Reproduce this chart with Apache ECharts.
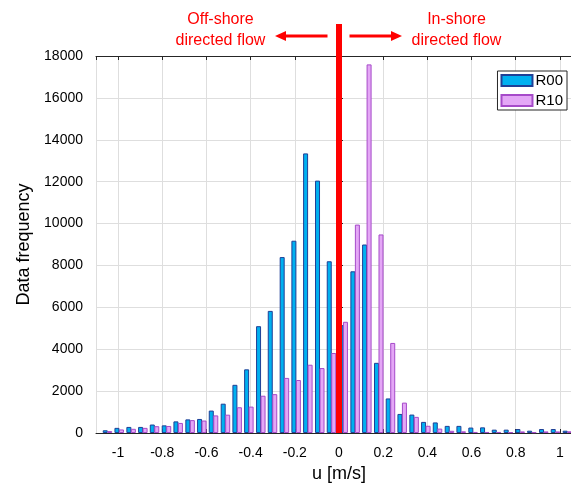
<!DOCTYPE html>
<html><head><meta charset="utf-8">
<script src="https://cdn.jsdelivr.net/npm/echarts@6/dist/echarts.min.js"></script>
<style>html,body{margin:0;padding:0;background:#fff;overflow:hidden}#c{width:571px;height:486px}</style>
</head><body><div id="c"></div>
<script>
// bin centres (u, m/s)
const binCenters = [-1.048,-0.995,-0.941,-0.888,-0.835,-0.781,-0.728,-0.674,-0.621,-0.568,
  -0.514,-0.461,-0.408,-0.354,-0.301,-0.247,-0.194,-0.141,-0.087,-0.034,
  0.019,0.073,0.126,0.180,0.233,0.286,0.340,0.393,0.446,0.500,
  0.553,0.607,0.660,0.713,0.767,0.820,0.873,0.927,0.980,1.034];
const r00 = [130,245,290,290,405,365,555,650,670,1070,1400,2300,3040,5100,5830,8400,9180,13350,12050,8200,
  5150,7720,9000,3350,1650,910,880,530,505,340,340,260,270,160,160,190,110,190,190,110];
const r10 = [90,170,200,245,325,335,480,615,595,840,875,1230,1260,1780,1855,2630,2530,3260,3100,3820,
  5310,9950,17600,9480,4300,1450,770,345,210,105,80,50,50,50,35,75,40,75,75,80];
const seriesNames = ['R00','R10'];
const xTickValues = [-1,-0.8,-0.6,-0.4,-0.2,0,0.2,0.4,0.6,0.8,1];
const yTickValues = [0,2000,4000,6000,8000,10000,12000,14000,16000,18000];
const annotations = {left:['Off-shore','directed flow'], right:['In-shore','directed flow']};

const FONT = 'Liberation Sans, Arial, sans-serif';
const AX = '#262626';
const chart = echarts.init(document.getElementById('c'), null, {renderer:'canvas'});

function isTick(v){ return xTickValues.some(t => Math.abs(t - v) < 1e-6); }

const xCommon = {
  type:'value', min:-1.1, max:1.1, splitNumber:11,
  axisLine:{show:true, onZero:false, lineStyle:{color:AX, width:1}},
  axisTick:{show:true, inside:true, length:4, lineStyle:{color:AX}},
};

chart.setOption({
  animation:false,
  backgroundColor:'#fff',
  grid:{left:96, width:486, top:56, height:377, containLabel:false, outerBoundsMode:'none'},
  legend:{
    data:seriesNames, orient:'vertical', right:4, top:71,
    itemWidth:31, itemHeight:11, itemGap:5, padding:[2,4,2,3],
    backgroundColor:'#fff', borderColor:AX, borderWidth:1, borderRadius:0,
    textStyle:{fontFamily:FONT, fontSize:15, color:'#000', padding:[0,0,0,-2]},
    icon:'rect'
  },
  xAxis:[
    Object.assign({}, xCommon, {
      position:'bottom',
      name:'u [m/s]', nameLocation:'middle', nameGap:32,
      nameTextStyle:{fontFamily:FONT, fontSize:18, color:'#000'},
      axisLabel:{show:true, margin:13, fontFamily:FONT, fontSize:14, color:'#000',
        showMinLabel:false, showMaxLabel:false,
        formatter: v => isTick(v) ? String(Math.round(v*10)/10) : ''},
      splitLine:{show:true, lineStyle:{color:'#dedede', width:1}}
    }),
    Object.assign({}, xCommon, {
      position:'top', axisLabel:{show:false}, splitLine:{show:false}
    })
  ],
  yAxis:{
    type:'value', min:0, max:18000, interval:2000,
    name:'Data frequency', nameLocation:'middle', nameGap:57, nameRotate:90,
    nameTextStyle:{fontFamily:FONT, fontSize:18, color:'#000'},
    axisLine:{show:true, lineStyle:{color:AX}},
    axisTick:{show:true, inside:true, length:4, lineStyle:{color:AX}},
    axisLabel:{margin:13, fontFamily:FONT, fontSize:14, color:'#000',
      formatter: v => String(v)},
    splitLine:{show:true, lineStyle:{color:'#dedede', width:1}}
  },
  series:[
    {name:seriesNames[0], type:'bar', xAxisIndex:0, barWidth:5, barGap:'-10%',
      data: binCenters.map((c,i)=>[c, r00[i]]),
      itemStyle:{color:'#00b0f0', borderColor:'#1f3f96', borderWidth:1}},
    {name:seriesNames[1], type:'bar', xAxisIndex:0, barWidth:5, barGap:'-10%',
      data: binCenters.map((c,i)=>[c, r10[i]]),
      itemStyle:{color:'#e4a7f6', borderColor:'#a64ac9', borderWidth:1}}
  ]
});

const x0 = chart.convertToPixel({xAxisIndex:0}, 0);
const yBase = chart.convertToPixel({yAxisIndex:0}, 0);
const RED = '#ff0000';
const ay = 36;
const txt = (t, x, y) => ({type:'text', z:200, style:{text:t, x:x, y:y, fill:RED,
  font:'16px ' + FONT, align:'center', verticalAlign:'middle'}});
chart.setOption({graphic:[
  {type:'rect', z:200, shape:{x:x0-3, y:24, width:6, height:yBase-24}, style:{fill:RED}},
  {type:'line', z:200, shape:{x1:x0-11.5, y1:ay, x2:x0-55, y2:ay}, style:{stroke:RED, lineWidth:3}},
  {type:'polygon', z:200, shape:{points:[[x0-64,ay],[x0-53,ay-5],[x0-53,ay+5]]}, style:{fill:RED}},
  {type:'line', z:200, shape:{x1:x0+10.5, y1:ay, x2:x0+54, y2:ay}, style:{stroke:RED, lineWidth:3}},
  {type:'polygon', z:200, shape:{points:[[x0+63,ay],[x0+52,ay-5],[x0+52,ay+5]]}, style:{fill:RED}},
  txt(annotations.left[0], x0-118.5, 20),
  txt(annotations.left[1], x0-118.5, 41),
  txt(annotations.right[0], x0+117.5, 20),
  txt(annotations.right[1], x0+117.5, 41)
]});
</script></body></html>
